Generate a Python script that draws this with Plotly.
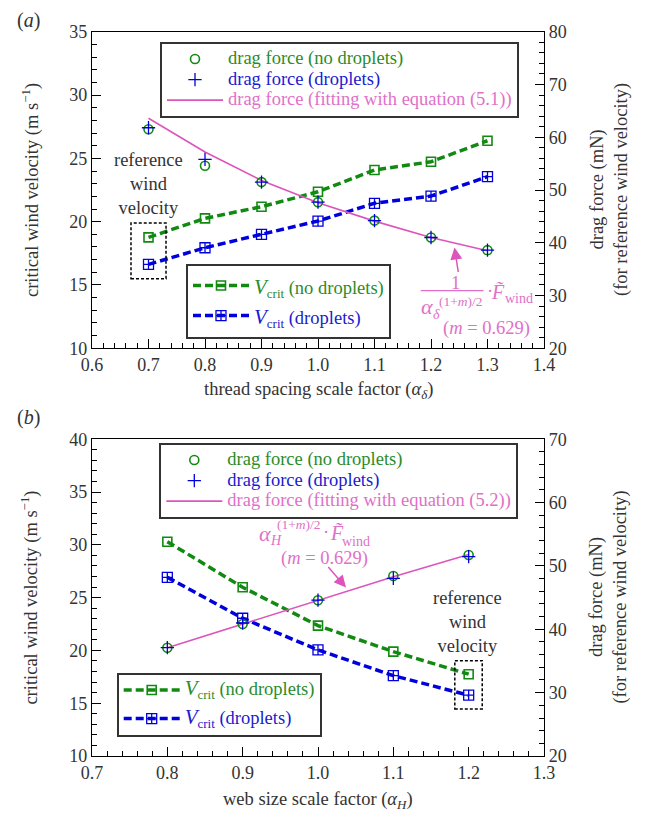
import plotly.graph_objects as go

W, H = 648, 816
FONT = "Liberation Serif"

# ---------------- data: panel (a) ----------------
alpha_delta = [0.7, 0.8, 0.9, 1.0, 1.1, 1.2, 1.3]
a_vcrit_nodrop = [18.76, 20.26, 21.18, 22.36, 24.08, 24.73, 26.39]
a_vcrit_drop = [16.63, 17.94, 19.00, 20.05, 21.45, 22.02, 23.55]
a_drag_nodrop = [61.5, 54.6, 51.5, 47.7, 44.2, 41.0, 38.6]
a_drag_drop = [61.8, 55.8, 51.5, 47.7, 44.2, 41.0, 38.6]
a_drag_fit = [63.6, 57.2, 51.8, 47.6, 44.1, 41.0, 38.5]

# ---------------- data: panel (b) ----------------
alpha_H = [0.8, 0.9, 1.0, 1.1, 1.2]
b_vcrit_nodrop = [30.30, 25.98, 22.35, 19.89, 17.75]
b_vcrit_drop = [26.93, 23.05, 20.05, 17.61, 15.76]
b_drag_nodrop = [37.1, 40.84, 44.58, 48.42, 51.73]
b_drag_drop = [37.1, 41.0, 44.6, 48.05, 51.47]
b_drag_fit = [37.1, 40.8, 44.6, 48.3, 51.8]

GREEN = "#128a12"
BLUE = "#0000dd"
PINK = "#dd55bb"
GREEN_T = "#2a8c2a"
BLUE_T = "#1a1ad0"
PINK_T = "#e070c8"
DARK = "#333333"


def px(x):
    return x / W


def py(y):
    return 1 - y / H


def lname(txt, color):
    return f'<span style="font-size:18.5px;color:{color}">{txt}</span>'


def vname(txt, color):
    return (f'<span style="font-size:18.5px;color:{color}">'
            f'<span style="font-size:21px"><i>V</i></span><sub>crit</sub>{txt}</span>')


fig = go.Figure()


def add_panel(xv, vnd, vd, dnd, dd, dfit, xa, ya, ya2, legA, legB, eq):
    fig.add_trace(go.Scatter(
        x=xv, y=vnd, xaxis=xa, yaxis=ya, mode="lines+markers",
        line=dict(color=GREEN, width=3.5, dash="8px,4px"),
        marker=dict(symbol="square-open", size=9, color=GREEN, line=dict(width=1.6, color=GREEN)),
        name=vname(" (no droplets)", GREEN_T), legend=legB, legendrank=1,
        legendgroup=legB + "g1"))
    fig.add_trace(go.Scatter(
        x=xv, y=vd, xaxis=xa, yaxis=ya, mode="lines+markers",
        line=dict(color=BLUE, width=3.5, dash="8px,4px"),
        marker=dict(symbol="square-cross-open", size=10, color=BLUE, line=dict(width=1.3, color=BLUE)),
        name=vname(" (droplets)", BLUE_T), legend=legB, legendrank=2,
        legendgroup=legB + "g2"))
    fig.add_trace(go.Scatter(
        x=xv, y=dfit, xaxis=xa, yaxis=ya2, mode="lines",
        line=dict(color=PINK, width=1.6),
        name=lname(f"drag force (fitting with equation ({eq}))", PINK_T), legend=legA, legendrank=3))
    fig.add_trace(go.Scatter(
        x=xv, y=dnd, xaxis=xa, yaxis=ya2, mode="markers",
        marker=dict(symbol="circle-open", size=9, color=GREEN, line=dict(width=1.6, color=GREEN)),
        name=lname("drag force (no droplets)", GREEN_T), legend=legA, legendrank=1))
    fig.add_trace(go.Scatter(
        x=xv, y=dd, xaxis=xa, yaxis=ya2, mode="markers",
        marker=dict(symbol="cross-thin-open", size=9.5, color=BLUE, line=dict(width=1.3, color=BLUE)),
        name=lname("drag force (droplets)", BLUE_T), legend=legA, legendrank=2))


add_panel(alpha_delta, a_vcrit_nodrop, a_vcrit_drop, a_drag_nodrop, a_drag_drop, a_drag_fit,
          "x", "y", "y2", "legend", "legend2", "5.1")
add_panel(alpha_H, b_vcrit_nodrop, b_vcrit_drop, b_drag_nodrop, b_drag_drop, b_drag_fit,
          "x2", "y3", "y4", "legend3", "legend4", "5.2")

XDOM = [px(92), px(544)]
A_DOM = [py(348.3), py(31.7)]
B_DOM = [py(756), py(439.3)]

tickfont = dict(family=FONT, size=18, color=DARK)


def axis(rng, dtick, mdtick, **kw):
    d = dict(range=rng, dtick=dtick, tick0=rng[0], ticks="inside", ticklen=9, tickwidth=1.2,
             tickcolor="black", showline=True, linecolor="black", linewidth=1.3,
             showgrid=False, zeroline=False, tickfont=tickfont, automargin=False,
             minor=dict(dtick=mdtick, ticks="inside", ticklen=5, tickwidth=1.1,
                        tickcolor="black", showgrid=False))
    d.update(kw)
    return d


def legend_cfg(x, y, size=13.5, gap=0):
    return dict(x=px(x), y=py(y), xanchor="left", yanchor="top", bordercolor=DARK,
                borderwidth=2, bgcolor="rgba(255,255,255,0)",
                font=dict(family=FONT, size=size, color=DARK),
                traceorder="grouped", tracegroupgap=gap, itemsizing="trace",
                itemwidth=56)


fig.update_layout(
    width=W, height=H, autosize=False,
    margin=dict(l=0, r=0, t=0, b=0, pad=0, autoexpand=False),
    paper_bgcolor="white", plot_bgcolor="white",
    font=dict(family=FONT, size=18, color=DARK),
    xaxis=axis([0.6, 1.4], 0.1, 0.02, domain=XDOM, anchor="y", mirror=True, tickformat=".1f"),
    yaxis=axis([10, 35], 5, 1, domain=A_DOM, anchor="x"),
    yaxis2=axis([20, 80], 10, 2, overlaying="y", side="right", anchor="x"),
    xaxis2=axis([0.7, 1.3], 0.1, 0.02, domain=XDOM, anchor="y3", mirror=True, tickformat=".1f"),
    yaxis3=axis([10, 40], 5, 1, domain=B_DOM, anchor="x2"),
    yaxis4=axis([20, 70], 10, 2, overlaying="y3", side="right", anchor="x2"),
    legend=legend_cfg(160, 41.7),
    legend2=legend_cfg(186, 263.5, size=20.8, gap=0),
    legend3=legend_cfg(159.3, 442.7),
    legend4=legend_cfg(116.7, 672.7, gap=8),
)

ann = []


def T(x, y, text, size=18.5, color=DARK, angle=0, xanchor="center", yanchor="middle"):
    ann.append(dict(x=px(x), y=py(y), xref="paper", yref="paper", text=text, showarrow=False,
                    font=dict(family=FONT, size=size, color=color), textangle=angle,
                    xanchor=xanchor, yanchor=yanchor))


# panel labels
T(28, 20, "(<i>a</i>)", size=20)
T(28, 418, "(<i>b</i>)", size=20)

# axis titles
T(318, 390, "thread spacing scale factor (<i>α</i><sub><i>δ</i></sub>)", size=18.5)
T(318, 800, "web size scale factor (<i>α</i><sub><i>H</i></sub>)", size=18.5)
T(30, 190, "critical wind velocity (m s<sup>−1</sup>)", size=18.5, angle=-90)
T(30, 597.6, "critical wind velocity (m s<sup>−1</sup>)", size=18.5, angle=-90)
T(609, 190, "drag force (mN)<br>(for reference wind velocity)", size=18.5, angle=-90)
T(609, 597.6, "drag force (mN)<br>(for reference wind velocity)", size=18.5, angle=-90)

# reference wind velocity notes
T(148, 183.7, "reference<br>wind<br>velocity", size=18.5)
T(467.7, 621.7, "reference<br>wind<br>velocity", size=18.5)

# equation annotation (a)
T(455.5, 283.3, "1", size=18.5, color=PINK_T)
T(426.7, 306.5, "<i>α</i>", size=22, color=PINK_T)
T(436, 314, "<i>δ</i>", size=14, color=PINK_T)
T(461, 301.5, "(1+<i>m</i>)/2", size=13.5, color=PINK_T)
T(489.5, 291, "·", size=18.5, color=PINK_T)
T(498, 292.5, "<i>F̃</i>", size=20, color=PINK_T)
T(518.5, 298.5, "wind", size=14, color=PINK_T)
T(486.7, 328, "(<i>m</i> = 0.629)", size=18.5, color=PINK_T)

# equation annotation (b)
T(265, 533.3, "<i>α</i>", size=22, color=PINK_T)
T(275.5, 540, "<i>H</i>", size=14, color=PINK_T)
T(298.5, 524.5, "(1+<i>m</i>)/2", size=13.5, color=PINK_T)
T(326, 532, "·", size=18.5, color=PINK_T)
T(337, 533, "<i>F̃</i>", size=20, color=PINK_T)
T(356, 541, "wind", size=14, color=PINK_T)
T(324, 558, "(<i>m</i> = 0.629)", size=18.5, color=PINK_T)

# arrows
ann.append(dict(x=px(454.5), y=py(247.5), xref="paper", yref="paper", ax=4, ay=26,
                axref="pixel", ayref="pixel", text="", showarrow=True, arrowhead=2,
                arrowsize=1.6, arrowwidth=1.5, arrowcolor=PINK))
ann.append(dict(x=px(346), y=py(587.5), xref="paper", yref="paper", ax=-19, ay=-22,
                axref="pixel", ayref="pixel", text="", showarrow=True, arrowhead=2,
                arrowsize=1.6, arrowwidth=1.5, arrowcolor=PINK))

fig.update_layout(annotations=ann)

shapes = [
    dict(type="rect", xref="x", yref="y", x0=0.669, x1=0.731, y0=15.5, y1=19.9,
         line=dict(color="black", width=1.5, dash="3px,2px")),
    dict(type="rect", xref="x2", yref="y3", x0=1.1816, x1=1.218, y0=14.46, y1=19.03,
         line=dict(color="black", width=1.5, dash="3px,2px")),
    dict(type="line", xref="paper", yref="paper", x0=px(420.7), x1=px(483.5),
         y0=py(290.7), y1=py(290.7), line=dict(color=PINK_T, width=1.2)),
]
fig.update_layout(shapes=shapes)

fig.write_html("out.html", config={"displayModeBar": False},
               post_script="document.body.style.margin='0px';document.body.style.overflow='hidden';")
